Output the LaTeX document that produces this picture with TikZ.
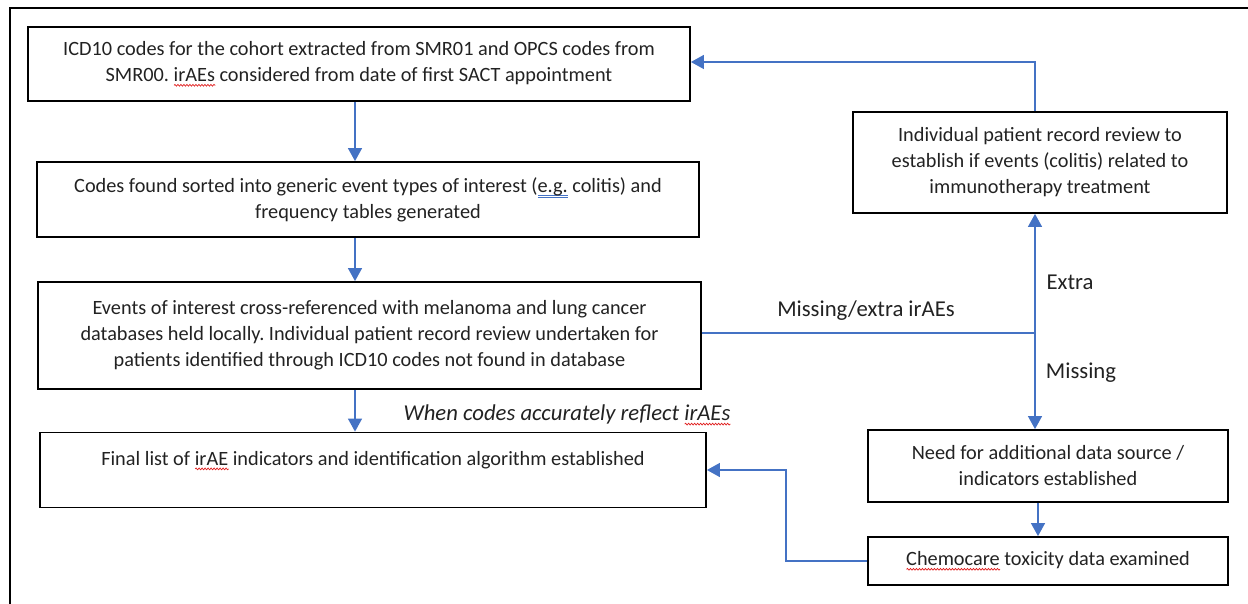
\documentclass[tikz,border=0pt]{standalone}
\usepackage{fontspec}
\setmainfont{Carlito}
\usetikzlibrary{arrows.meta,calc,decorations.pathmorphing}
\definecolor{arrowblue}{HTML}{4472C4}
\definecolor{spellred}{HTML}{E02020}
\definecolor{txt}{HTML}{222222}
\frenchspacing
\newsavebox\wbox
\newcommand\redwave[1]{\sbox\wbox{#1}\rlap{\raisebox{-5pt}{\tikz[x=1pt,y=1pt]\draw[spellred,line width=0.7pt,decorate,decoration={snake,amplitude=0.9pt,segment length=3pt}] (0,0) -- (\wd\wbox,0);}}#1}
\newcommand\bluedbl[1]{\sbox\wbox{#1}\rlap{\raisebox{-5pt}{\tikz[x=1pt,y=1pt]{\draw[arrowblue,line width=0.6pt] (0,0) -- (\wd\wbox,0) (0,1.8) -- (\wd\wbox,1.8);}}}#1}
\begin{document}
\begin{tikzpicture}[x=1pt,y=-1pt,
  box/.style={draw=black,line width=1.8pt,rectangle,align=center,inner sep=0pt,text=txt,
    font=\fontsize{20.3}{26}\selectfont},
  arr/.style={draw=arrowblue,line width=1.3pt,-{Triangle[width=14pt,length=13pt]}},
  ln/.style={draw=arrowblue,line width=1.3pt},
  lbl/.style={font=\fontsize{22.7}{26}\selectfont,inner sep=0pt,text=txt}]
\useasboundingbox (0,0) rectangle (1248,604);
\draw[line width=2pt] (10,604) -- (10,8) -- (1248,8);

\node[box,minimum width=662pt,minimum height=74pt] (b1) at (359,64)
  {ICD10 codes for the cohort extracted from SMR01 and OPCS codes from\\
   SMR00. \redwave{irAEs} considered from date of first SACT appointment};
\node[box,minimum width=662pt,minimum height=75pt] (b2) at (368,199.5)
  {Codes found sorted into generic event types of interest (\bluedbl{e.g.} colitis) and\\
   frequency tables generated};
\node[box,minimum width=663pt,minimum height=107pt] (b3) at (369.5,335.5)
  {Events of interest cross-referenced with melanoma and lung cancer\\
   databases held locally. Individual patient record review undertaken for\\
   patients identified through ICD10 codes not found in database};
\node[box,minimum width=666pt,minimum height=75pt] (b4) at (373,470)
  {Final list of \redwave{irAE} indicators and identification algorithm established\\[-10pt] \strut};
\node[box,minimum width=374pt,minimum height=101pt] (b5) at (1040,162.5)
  {Individual patient record review to\\
   establish if events (colitis) related to\\
   immunotherapy treatment};
\node[box,minimum width=360pt,minimum height=72pt] (b6) at (1048,466)
  {Need for additional data source /\\ indicators established};
\node[box,minimum width=360pt,minimum height=48pt] (b7) at (1048,561)
  {\redwave{Chemocare} toxicity data examined};

\coordinate (spine) at (355,0);
\coordinate (rx) at (1035,0);
\coordinate (j) at (1035,333);
\coordinate (tp) at (1035,62);
\coordinate (bx) at (786,0);
\coordinate (cx) at (1038,0);

\draw[arr] (b1.south -| spine) -- (b2.north -| spine);
\draw[arr] (b2.south -| spine) -- (b3.north -| spine);
\draw[arr] (b3.south -| spine) -- (b4.north -| spine);

\draw[arr] (b5.north -| rx) -- (tp) -- (tp -| b1.east);
\draw[ln] (b3.east |- j) -- (j);
\draw[arr] (j) -- (b5.south -| j);
\draw[arr] (j) -- (b6.north -| j);
\draw[arr] (b6.south -| cx) -- (b7.north -| cx);
\draw[arr] (b7.west) -- (b7.west -| bx) |- (b4.east);

\node[lbl] (lmx) at (866,311) {Missing/extra irAEs};
\node[lbl] (lex) at (1070,282) {Extra};
\node[lbl] (lmi) at (1081,373) {Missing};
\node[lbl,font=\fontsize{22.7}{26}\selectfont\itshape] (lwc) at (567,415)
  {When codes accurately reflect \redwave{irAEs}};
\end{tikzpicture}
\end{document}
